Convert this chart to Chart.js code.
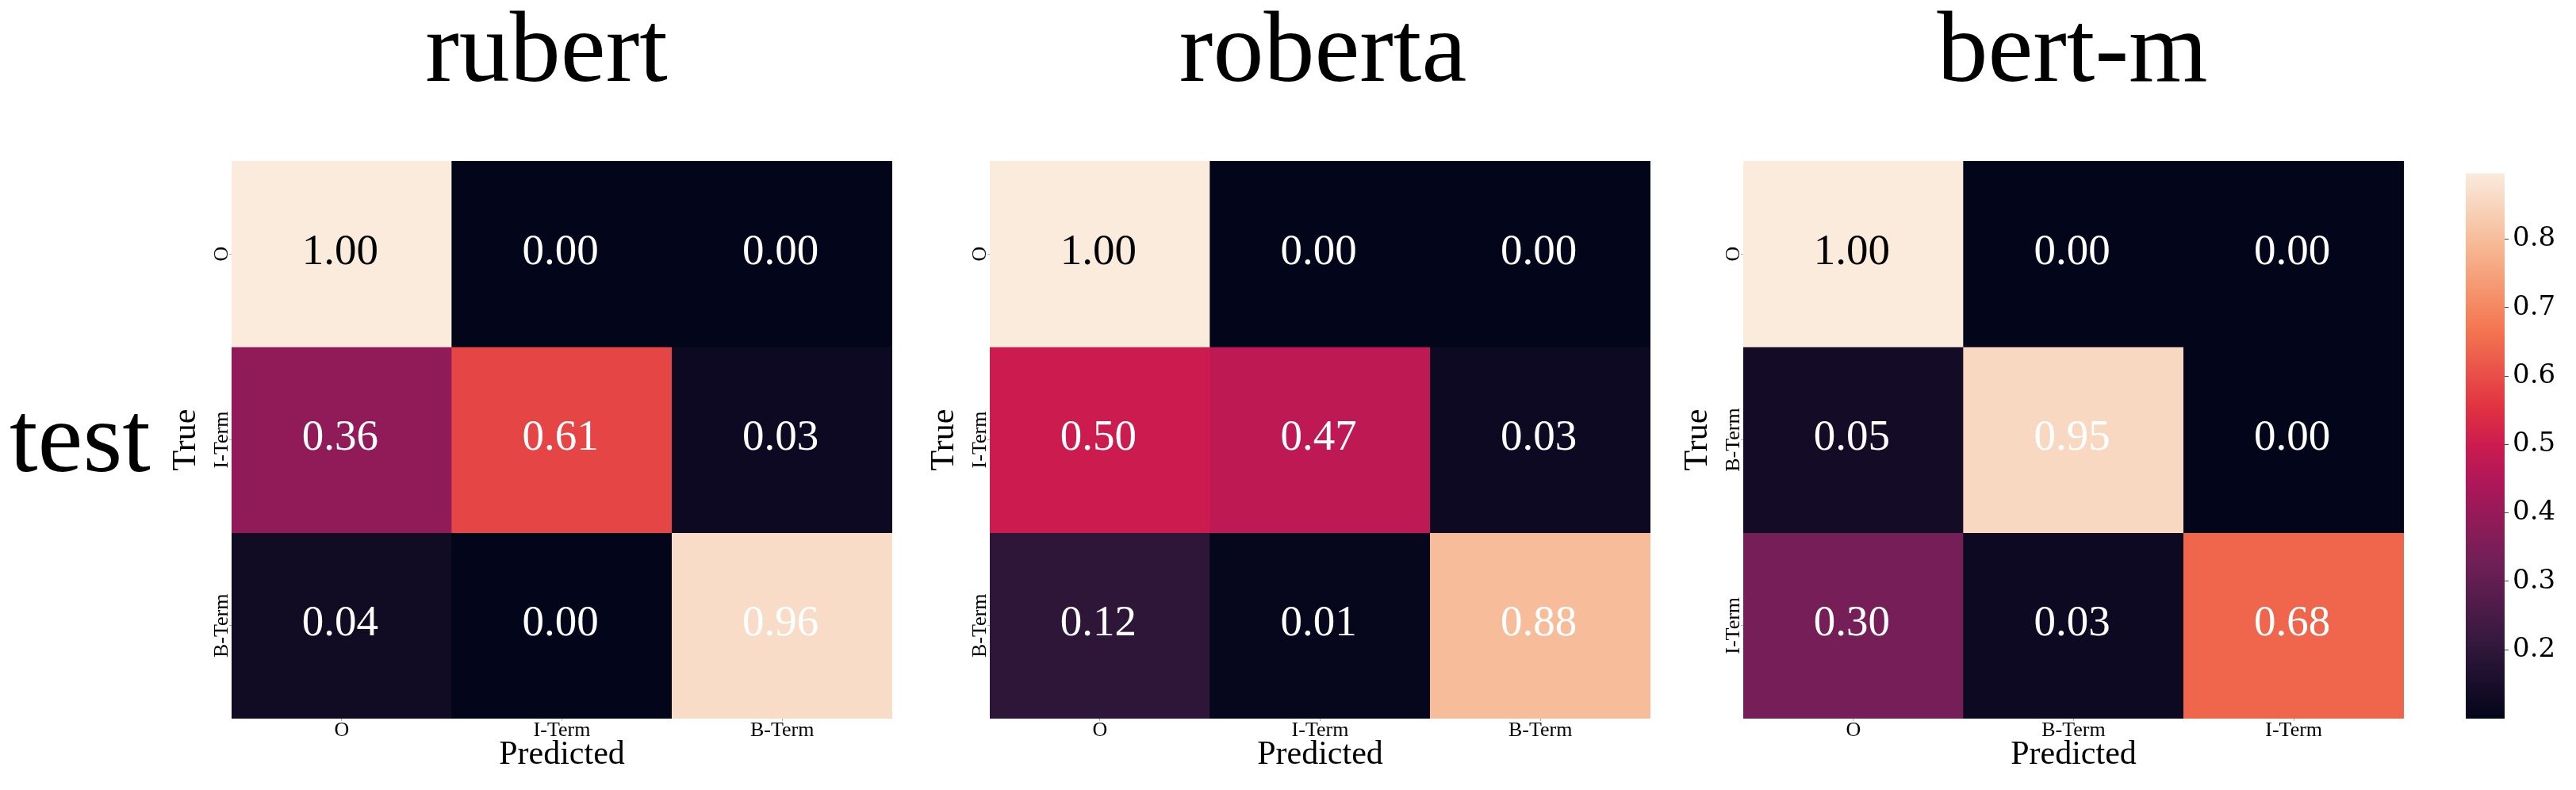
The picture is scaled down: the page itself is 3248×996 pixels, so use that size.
<!DOCTYPE html>
<html>
<head>
<meta charset="utf-8">
<script src="https://cdn.jsdelivr.net/npm/chart.js@4/dist/chart.umd.min.js"></script>
<style>
html, body { margin: 0; padding: 0; background: #fff; }
#page { position: relative; width: 3248px; height: 996px; overflow: hidden; background: #fff; }
#page canvas { position: absolute; }
.ttl { position: absolute; font-family: 'Liberation Serif', 'Times New Roman', serif; font-size: 128px; line-height: 128px; color: #000; white-space: nowrap; }
</style>
</head>
<body>
<div id="page"></div>
<script>
// ---------------- data ----------------
const panelTitles = ['rubert', 'roberta', 'bert-m'];
const rowGroupTitle = 'test';
const xAxisTitle = 'Predicted';
const yAxisTitle = 'True';

const rubertLabels = ['O', 'I-Term', 'B-Term'];
const robertaLabels = ['O', 'I-Term', 'B-Term'];
const bertmLabels = ['O', 'B-Term', 'I-Term'];

const rubertValues = [
  [1.00, 0.00, 0.00],
  [0.36, 0.61, 0.03],
  [0.04, 0.00, 0.96]
];
const robertaValues = [
  [1.00, 0.00, 0.00],
  [0.50, 0.47, 0.03],
  [0.12, 0.01, 0.88]
];
const bertmValues = [
  [1.00, 0.00, 0.00],
  [0.05, 0.95, 0.00],
  [0.30, 0.03, 0.68]
];

const colorbarTicks = [0.2, 0.3, 0.4, 0.5, 0.6, 0.7, 0.8];
const colorbarRange = [0.0994, 0.8964];

// ---------------- colormap (seaborn "rocket") ----------------
const rocketStops = [
  [0.0, '#03051a'], [0.1429, '#35193e'], [0.2857, '#701f57'], [0.4286, '#ad1759'],
  [0.5, '#cb1b4f'], [0.5714, '#e13342'], [0.7143, '#f37651'], [0.8571, '#f6b48f'], [1.0, '#faebdd']
];
function hexToRgb(h) { return [parseInt(h.slice(1,3),16), parseInt(h.slice(3,5),16), parseInt(h.slice(5,7),16)]; }
function rocket(v) {
  const t = Math.max(0, Math.min(1, v));
  for (let i = 1; i < rocketStops.length; i++) {
    const [t1, c1] = rocketStops[i];
    if (t <= t1) {
      const [t0, c0] = rocketStops[i-1];
      const f = (t - t0) / (t1 - t0);
      const a = hexToRgb(c0), b = hexToRgb(c1);
      return 'rgb(' + a.map((x, k) => Math.round(x + (b[k] - x) * f)).join(',') + ')';
    }
  }
  return rocketStops[rocketStops.length-1][1];
}

// ---------------- layout ----------------
Chart.defaults.font.family = "'Liberation Serif', 'Times New Roman', serif";
Chart.defaults.color = '#000';
const page = document.getElementById('page');
const HM_TOP = 203, HM_BOTTOM = 906;
const panelLefts = [292, 1248, 2198];
const panelRights = [1125, 2081, 3031];
const titleCenters = [689, 1668, 2613];

function addText(text, left, top, width, align) {
  const d = document.createElement('div');
  d.className = 'ttl';
  d.textContent = text;
  d.style.left = left + 'px';
  d.style.top = top + 'px';
  if (width) { d.style.width = width + 'px'; d.style.textAlign = align; }
  page.appendChild(d);
}

const annotatePlugin = {
  id: 'annotate',
  afterDatasetsDraw(chart) {
    const ctx = chart.ctx;
    ctx.save();
    ctx.font = "55px 'Liberation Serif', 'Times New Roman', serif";
    ctx.textAlign = 'center';
    ctx.textBaseline = 'middle';
    chart.data.datasets.forEach((ds, di) => {
      chart.getDatasetMeta(di).data.forEach((el, ci) => {
        const v = ds.cellValues[ci];
        ctx.fillStyle = v >= 0.99 ? '#000000' : '#ffffff';
        ctx.fillText(v.toFixed(2), el.x - 2, (el.y + el.base) / 2 - 2);
      });
    });
    ctx.restore();
  }
};

function makePanel(i, labels, values) {
  const L = panelLefts[i], R = panelRights[i];
  const axisW = 92, padR = 10, padT = 10, axisH = 90;
  const W = R - L + axisW + padR, H = HM_BOTTOM - HM_TOP + padT + axisH;
  const cv = document.createElement('canvas');
  cv.width = W; cv.height = H;
  cv.style.left = (L - axisW) + 'px'; cv.style.top = (HM_TOP - padT) + 'px';
  cv.style.width = W + 'px'; cv.style.height = H + 'px';
  page.appendChild(cv);

  const datasets = values.map((row, r) => ({
    label: labels[r],
    data: row.map(() => 1),
    cellValues: row,
    backgroundColor: row.map(v => rocket(v)),
    borderWidth: 0,
    barPercentage: 1,
    categoryPercentage: 1
  }));

  new Chart(cv, {
    type: 'bar',
    data: { labels: labels, datasets: datasets },
    plugins: [annotatePlugin],
    options: {
      responsive: false, animation: false, devicePixelRatio: 1,
      layout: { padding: { left: 0, right: padR, top: padT, bottom: 0 } },
      plugins: { legend: { display: false }, tooltip: { enabled: false } },
      scales: {
        x: {
          type: 'category', stacked: true, offset: true,
          grid: { display: true, drawOnChartArea: false, drawTicks: true, tickLength: 3, color: '#b0b0b0', offset: false },
          border: { display: false },
          ticks: { font: { size: 26 }, color: '#000', padding: -3, minRotation: 0, maxRotation: 0, autoSkip: false },
          title: { display: true, text: xAxisTitle, font: { size: 42 }, color: '#000', padding: { top: 0, bottom: 19 } },
          afterFit(s) { s.height = axisH; }
        },
        y: {
          type: 'linear', min: 0, max: 3, reverse: true, stacked: true,
          afterBuildTicks(s) { s.ticks = labels.map((_, k) => ({ value: k + 0.5 })); },
          ticks: {
            callback: (v) => labels[Math.floor(v)],
            font: { size: 26 }, color: '#000', minRotation: 90, maxRotation: 90,
            crossAlign: 'center', padding: -31, autoSkip: false
          },
          grid: { display: true, drawOnChartArea: false, drawTicks: true, tickLength: 3, color: '#b0b0b0' },
          border: { display: false },
          title: { display: true, text: yAxisTitle, font: { size: 42 }, color: '#000', padding: { top: 10, bottom: 0 } },
          afterFit(s) { s.width = axisW; }
        }
      }
    }
  });
  addText(panelTitles[i], titleCenters[i] - 400, -5, 800, 'center');
}

makePanel(0, rubertLabels, rubertValues);
makePanel(1, robertaLabels, robertaValues);
makePanel(2, bertmLabels, bertmValues);
addText(rowGroupTitle, 12, 487);

// ---------------- colorbar ----------------
(function () {
  const left = 3109, W = 3248 - left, H = HM_BOTTOM - HM_TOP + 100;
  const cv = document.createElement('canvas');
  cv.width = W; cv.height = H;
  cv.style.left = left + 'px'; cv.style.top = (HM_TOP - 10) + 'px';
  cv.style.width = W + 'px'; cv.style.height = H + 'px';
  page.appendChild(cv);
  new Chart(cv, {
    type: 'bar',
    data: {
      labels: [''],
      datasets: [{
        data: [colorbarRange],
        backgroundColor: (c) => {
          const ca = c.chart.chartArea;
          if (!ca) return '#000';
          const g = c.chart.ctx.createLinearGradient(0, ca.bottom, 0, ca.top);
          rocketStops.forEach(([t, col]) => g.addColorStop(t, col));
          return g;
        },
        borderWidth: 0, barPercentage: 1, categoryPercentage: 1
      }]
    },
    options: {
      responsive: false, animation: false, devicePixelRatio: 1,
      layout: { padding: { left: 0, right: 0, top: 10, bottom: 90 } },
      plugins: { legend: { display: false }, tooltip: { enabled: false } },
      scales: {
        x: { display: false },
        y: {
          position: 'right', min: colorbarRange[0], max: colorbarRange[1],
          afterBuildTicks(s) { s.ticks = colorbarTicks.map(v => ({ value: v })); },
          ticks: { font: { family: "'DejaVu Serif', serif", size: 34 }, color: '#000', padding: 5, callback: (v) => v.toFixed(1) },
          grid: { display: true, drawOnChartArea: false, drawTicks: true, tickLength: 5, color: '#444' },
          border: { display: false },
          afterFit(s) { s.width = 139 - 49; }
        }
      }
    }
  });
})();
</script>
</body>
</html>
